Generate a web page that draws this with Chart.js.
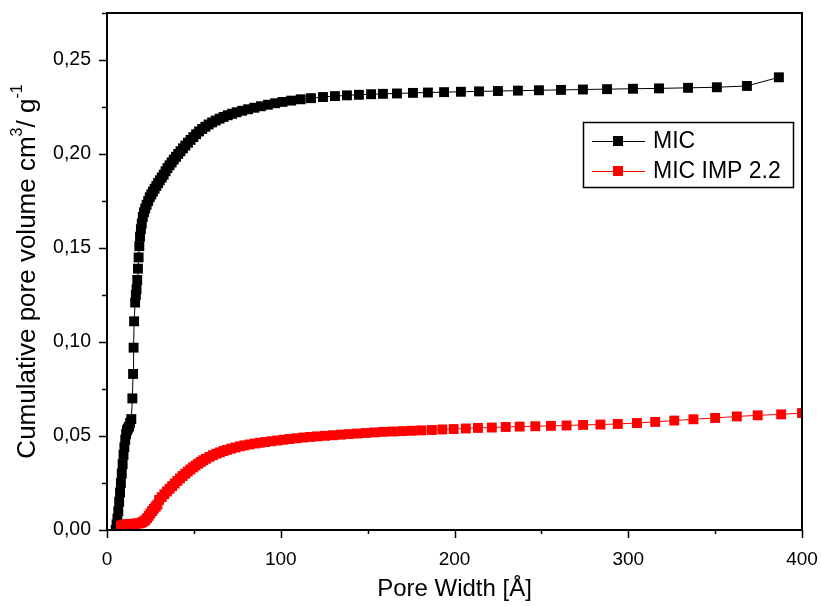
<!DOCTYPE html>
<html>
<head>
<meta charset="utf-8">
<script src="https://cdn.jsdelivr.net/npm/chart.js@4"></script>
<style>
  html, body { margin: 0; padding: 0; background: #fff; }
  #wrap { width: 821px; height: 606px; }
</style>
</head>
<body>
<div id="wrap"><canvas id="poreChart" width="821" height="606"></canvas></div>
<script>
// pore width (Å) and cumulative pore volume
const micX = [5.0, 5.5, 6.0, 6.5, 7.0, 7.5, 8.0, 8.5, 9.0, 9.5, 10.0, 10.5, 11.0, 11.5, 12.0, 12.7, 13.3, 14.0,
  14.6, 15.0, 15.3, 15.6, 16.2, 16.6, 17.0, 17.4, 17.8, 18.2, 18.6, 19.0, 19.5, 20.0, 20.6, 21.3, 22.0, 22.8,
  23.7, 24.6, 25.5, 26.4, 27.4, 28.4, 29.4, 30.4, 31.5, 32.6, 33.7, 34.8, 36.0, 37.2, 38.4, 39.7, 41.0, 42.3,
  43.7, 45.1, 46.6, 48.1, 49.7, 51.3, 53.0, 54.8, 56.6, 58.5, 60.5, 62.6, 64.8, 67.1, 69.5, 72.0, 74.6, 77.8,
  81.2, 84.8, 88.6, 92.6, 96.8, 101.0, 106.0, 111.5, 117.4, 124.3, 131.2, 138.1, 145.0, 152.0, 158.8, 166.9,
  176.1, 184.7, 194.0, 203.7, 214.1, 225.0, 236.5, 248.6, 261.3, 273.9, 287.8, 302.7, 317.7, 334.4, 351.0,
  368.3, 386.7];
const micY = [0.000, 0.003, 0.006, 0.010, 0.015, 0.020, 0.025, 0.030, 0.035, 0.040, 0.044, 0.048, 0.051, 0.053,
  0.054, 0.055, 0.057, 0.059, 0.070, 0.083, 0.097, 0.111, 0.121, 0.125, 0.128, 0.133, 0.139, 0.145, 0.151,
  0.156, 0.160, 0.163, 0.1665, 0.169, 0.171, 0.173, 0.175, 0.177, 0.1785, 0.180, 0.1815, 0.183, 0.1845, 0.186,
  0.1875, 0.189, 0.1908, 0.1925, 0.194, 0.1955, 0.197, 0.1985, 0.200, 0.2015, 0.203, 0.2045, 0.206, 0.2075,
  0.209, 0.2105, 0.212, 0.2133, 0.2145, 0.2157, 0.2168, 0.2178, 0.2188, 0.2197, 0.2206, 0.2214, 0.2222, 0.2230,
  0.2238, 0.2246, 0.2254, 0.2262, 0.2270, 0.2277, 0.2284, 0.2291, 0.2297, 0.2303, 0.2308, 0.2312, 0.2315,
  0.2318, 0.2320, 0.2322, 0.2325, 0.2327, 0.2329, 0.2331, 0.2333, 0.2335, 0.2337, 0.2339, 0.2341, 0.2343,
  0.2345, 0.2347, 0.2349, 0.2352, 0.2355, 0.2362, 0.2408];

const impX = [8.0, 9.0, 10.0, 11.0, 12.0, 13.0, 14.0, 15.0, 16.0, 17.0, 18.0, 19.0, 20.0, 21.0, 22.0, 23.0,
  24.0, 25.0, 26.0, 27.0, 28.0, 29.0, 30.0, 31.5, 33.0, 34.5, 36.0, 37.5, 39.0, 40.5, 42.0, 43.5, 45.0, 46.5,
  48.0, 49.5, 51.0, 52.5, 54.0, 55.5, 57.0, 59.0, 61.0, 63.0, 65.0, 67.0, 69.0, 71.5, 74.0, 76.5, 79.0, 82.0,
  85.0, 88.0, 91.0, 94.5, 98.0, 101.5, 105.0, 109.0, 113.0, 117.0, 121.0, 125.5, 130.0, 134.5, 139.0, 144.0,
  149.0, 154.0, 159.0, 164.5, 170.0, 175.5, 181.0, 187.0, 193.0, 199.5, 206.5, 213.5, 221.5, 229.5, 237.5,
  246.5, 255.5, 264.5, 274.0, 284.0, 294.0, 305.0, 315.5, 326.5, 337.5, 350.0, 362.5, 374.5, 388.0, 400.0];
const impY = [0.0020, 0.0025, 0.0028, 0.0030, 0.0031, 0.0032, 0.0032, 0.0033, 0.0033, 0.0034, 0.0035, 0.0037,
  0.0040, 0.0045, 0.0052, 0.0062, 0.0075, 0.0088, 0.0101, 0.0113, 0.0124, 0.0135, 0.0160, 0.0175, 0.0190,
  0.0205, 0.0219, 0.0233, 0.0247, 0.0261, 0.0274, 0.0287, 0.0299, 0.0311, 0.0322, 0.0333, 0.0343, 0.0353,
  0.0362, 0.0371, 0.0379, 0.0389, 0.0398, 0.0406, 0.0413, 0.0420, 0.0426, 0.0433, 0.0439, 0.0445, 0.0450,
  0.0455, 0.0460, 0.0464, 0.0468, 0.0472, 0.0476, 0.0480, 0.0484, 0.0488, 0.0492, 0.0495, 0.0498, 0.0501,
  0.0504, 0.0507, 0.0510, 0.0513, 0.0516, 0.0519, 0.0522, 0.0524, 0.0526, 0.0528, 0.0530, 0.0532, 0.0535,
  0.0537, 0.0540, 0.0543, 0.0545, 0.0548, 0.0550, 0.0552, 0.0554, 0.0556, 0.0559, 0.0561, 0.0564, 0.0569,
  0.0575, 0.0582, 0.0589, 0.0596, 0.0604, 0.0610, 0.0615, 0.0622];

const seriesNames = ['MIC', 'MIC IMP 2.2'];
const xTicks = [0, 100, 200, 300, 400];
const yTicks = [0, 0.05, 0.10, 0.15, 0.20, 0.25];
const xTitle = 'Pore Width [Å]';
// [text, superscript?]
const yTitleParts = [['Cumulative pore volume cm', false], ['3', true], ['/ g', false], ['-1', true]];

const FONT = '"Liberation Sans", Arial, sans-serif';

function toPoints(xs, ys) {
  return xs.map((x, i) => ({ x: x, y: ys[i] }));
}

// frame, major/minor ticks, rotated y title with superscripts, boxed legend
const decorPlugin = {
  id: 'decor',
  afterDraw(chart) {
    const { ctx, chartArea: a, scales } = chart;
    ctx.save();
    ctx.strokeStyle = '#000';
    ctx.lineWidth = 2;
    ctx.strokeRect(a.left, a.top, a.right - a.left, a.bottom - a.top);

    ctx.lineWidth = 1.5;
    ctx.beginPath();
    const xStep = xTicks[1] - xTicks[0];
    xTicks.forEach(v => {
      const px = Math.round(scales.x.getPixelForValue(v)) + 0.5;
      ctx.moveTo(px, a.bottom); ctx.lineTo(px, a.bottom + 8);
      const m = v + xStep / 2;
      if (m <= scales.x.max) {
        const mx = Math.round(scales.x.getPixelForValue(m)) + 0.5;
        ctx.moveTo(mx, a.bottom); ctx.lineTo(mx, a.bottom + 4);
      }
    });
    const yStep = yTicks[1] - yTicks[0];
    yTicks.forEach(v => {
      const py = Math.round(scales.y.getPixelForValue(v)) + 0.5;
      ctx.moveTo(a.left, py); ctx.lineTo(a.left - 8, py);
      const m = v + yStep / 2;
      if (m <= scales.y.max + 1e-9) {
        const my = Math.round(scales.y.getPixelForValue(m)) + 0.5;
        ctx.moveTo(a.left, my); ctx.lineTo(a.left - 5, my);
      }
    });
    ctx.stroke();

    // y title
    const mainFont = '26px ' + FONT;
    const supFont = '16px ' + FONT;
    let total = 0;
    yTitleParts.forEach(p => {
      ctx.font = p[1] ? supFont : mainFont;
      total += ctx.measureText(p[0]).width;
    });
    ctx.translate(28, (a.top + a.bottom) / 2);
    ctx.rotate(-Math.PI / 2);
    ctx.fillStyle = '#000';
    ctx.textBaseline = 'middle';
    ctx.textAlign = 'left';
    let pos = -total / 2;
    yTitleParts.forEach(p => {
      ctx.font = p[1] ? supFont : mainFont;
      ctx.fillText(p[0], pos, p[1] ? -10 : 0);
      pos += ctx.measureText(p[0]).width;
    });
    ctx.restore();

    // legend
    ctx.save();
    ctx.strokeStyle = '#000';
    ctx.lineWidth = 1.5;
    ctx.strokeRect(583.5, 122.5, 210, 65);
    ctx.font = '23px ' + FONT;
    ctx.textBaseline = 'middle';
    ctx.textAlign = 'left';
    chart.data.datasets.forEach((ds, i) => {
      const y = 141 + i * 30;
      ctx.strokeStyle = ds.borderColor;
      ctx.lineWidth = 1;
      ctx.beginPath();
      ctx.moveTo(592, y + 0.5); ctx.lineTo(645, y + 0.5);
      ctx.stroke();
      ctx.fillStyle = ds.pointBackgroundColor;
      ctx.fillRect(613, y - 5, 10, 10);
      ctx.fillStyle = '#000';
      ctx.fillText(ds.label, 653, y + 1);
    });
    ctx.restore();
  }
};

const ctx = document.getElementById('poreChart').getContext('2d');
new Chart(ctx, {
  type: 'line',
  data: {
    datasets: [{
      label: seriesNames[0],
      data: toPoints(micX, micY),
      borderColor: '#000000',
      pointBackgroundColor: '#000000',
      order: 1
    }, {
      label: seriesNames[1],
      data: toPoints(impX, impY),
      borderColor: '#ff0000',
      pointBackgroundColor: '#ff0000',
      order: 0
    }]
  },
  options: {
    responsive: false,
    animation: false,
    devicePixelRatio: 1,
    elements: {
      line: { borderWidth: 1, tension: 0 },
      point: { pointStyle: 'rect', radius: 7, borderWidth: 0 }
    },
    layout: { padding: { left: 0, right: 19, top: 13, bottom: 0 } },
    plugins: {
      legend: { display: false },
      tooltip: { enabled: false }
    },
    scales: {
      x: {
        type: 'linear',
        min: 0,
        max: 400,
        afterBuildTicks: s => { s.ticks = xTicks.map(v => ({ value: v })); },
        afterFit: s => { s.height = 76; s.paddingLeft = 0; s.paddingRight = 0; },
        grid: { display: false },
        border: { display: false },
        ticks: { color: '#000', font: { family: FONT, size: 19 }, padding: 10, maxRotation: 0, autoSkip: false },
        title: { display: true, text: xTitle, color: '#000', font: { family: FONT, size: 24 }, padding: { top: 0, bottom: 2 } }
      },
      y: {
        type: 'linear',
        min: 0,
        max: 0.275,
        afterBuildTicks: s => { s.ticks = yTicks.map(v => ({ value: v })); },
        afterFit: s => { s.width = 107; s.paddingTop = 0; s.paddingBottom = 0; },
        grid: { display: false },
        border: { display: false },
        ticks: {
          color: '#000',
          font: { family: FONT, size: 19.5 },
          padding: 8,
          autoSkip: false,
          callback: v => v.toFixed(2).replace('.', ',')
        }
      }
    }
  },
  plugins: [decorPlugin]
});
</script>
</body>
</html>
